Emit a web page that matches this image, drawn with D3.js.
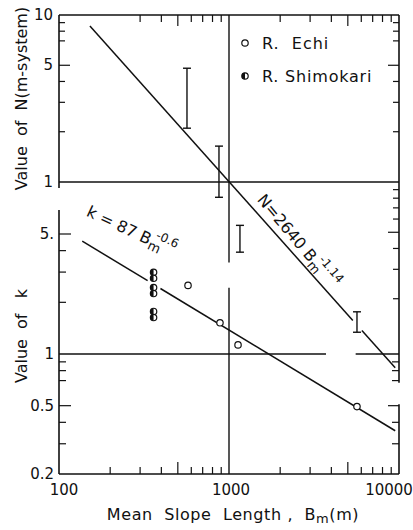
<!DOCTYPE html>
<html>
<head>
<meta charset="utf-8">
<script src="https://cdn.jsdelivr.net/npm/d3@7"></script>
<style>
  body { margin: 0; background: #fff; }
  text { font-family: "DejaVu Sans", sans-serif; fill: #111; white-space: pre; }
</style>
</head>
<body>
<svg id="chart"></svg>
<script>
// R. Echi : mean slope length vs k
const echiB = [574, 885, 1130, 5660];
const echiK = [2.51, 1.52, 1.13, 0.494];

// R. Shimokari : all at one slope length
const shimoB = [360, 360, 360, 360, 360, 360];
const shimoK = [2.99, 2.76, 2.44, 2.25, 1.77, 1.63];

// error bars of N
const barB = [566, 873, 1160, 5660];
const barLow = [2.1, 0.81, 0.38, 0.126];
const barHigh = [4.8, 1.64, 0.55, 0.167];

// fitted lines, drawn in pieces (gaps where marks sit)
const nCoef = 2640, nExp = -1.14;
const nPieces = [[152, 5350], [6050, 9500]];
const kCoef = 87, kExp = -0.6;
const kPieces = [[137, 332], [395, 9500]];

// ticks
const xMinor = [200, 300, 400, 600, 700, 800, 900, 2000, 3000, 4000, 6000, 7000, 8000, 9000];
const xMajor = [500, 5000];
const xTopMinor = [300, 400, 600, 700, 800, 900, 2000, 3000, 4000, 6000, 7000, 8000, 9000];
const xLabels = [100, 1000, 10000];
const nMinor = [9, 8, 7, 4, 3, 2];
const nMajor = [5];
const nLabels = ["10", "5", "1"];
const nRightLower = [0.9, 0.8, 0.7, 0.6, 0.4, 0.3, 0.2];
const nRightLowerMajor = [0.5];
const kLeftMinor = [4, 3, 2, 0.9, 0.8, 0.7, 0.4, 0.3];
const kLeftMajor = [5, 0.5];
const kLabels = ["5.", "1", "0.5", "0.2"];
const kRightMinor = [0.9, 0.8, 0.7, 0.4, 0.3];
const kRightMajor = [0.5];

const W = 413, H = 530;
const svg = d3.select("#chart").attr("width", W).attr("height", H);

const x = d3.scaleLog().domain([100, 10000]).range([59, 399]);
const yN = d3.scaleLog().domain([1, 10]).range([182, 15]);
const yK = d3.scaleLog().domain([0.2, 1]).range([474, 354]);

const ink = "#111";
const left = x(100), right = x(10000);

function seg(x1, y1, x2, y2, w) {
  svg.append("line")
    .attr("x1", x1).attr("y1", y1).attr("x2", x2).attr("y2", y2)
    .attr("stroke", ink).attr("stroke-width", w || 1.4);
}

// frame
seg(left, yN(10), right, yN(10), 1.6);
seg(left, yK(0.2), right, yK(0.2), 1.6);
seg(left, yN(10), left, yN(0.92), 1.6);
seg(left, yK(6.9), left, yK(0.2), 1.6);
seg(right, yN(10), right, yK(0.68), 1.6);
seg(right, yK(0.51), right, yK(0.2), 1.6);

// reference lines N=1, k=1, B=1000
seg(left, yN(1), right, yN(1));
seg(left, yK(1), x(3720), yK(1));
seg(x(5560), yK(1), right, yK(1));
seg(x(1000), yN(10), x(1000), yN(0.33));
seg(x(1000), yK(2.43), x(1000), yK(0.2));

// x ticks
xMinor.forEach(v => seg(x(v), yK(0.2), x(v), yK(0.2) - 7, 1.2));
xMajor.forEach(v => seg(x(v), yK(0.2), x(v), yK(0.2) - 12, 1.2));
xTopMinor.forEach(v => seg(x(v), yN(10), x(v), yN(10) + 7, 1.2));
xMajor.forEach(v => seg(x(v), yN(10), x(v), yN(10) + 11, 1.2));

// y ticks, left
nMinor.forEach(v => seg(left, yN(v), left + 6, yN(v), 1.2));
nMajor.forEach(v => seg(left, yN(v), left + 11, yN(v), 1.2));
kLeftMinor.forEach(v => seg(left, yK(v), left + 7, yK(v), 1.2));
kLeftMajor.forEach(v => seg(left, yK(v), left + 12, yK(v), 1.2));

// y ticks, right
nMinor.forEach(v => seg(right, yN(v), right - 6, yN(v), 1.2));
nMajor.forEach(v => seg(right, yN(v), right - 11, yN(v), 1.2));
nRightLower.forEach(v => seg(right, yN(v), right - 6, yN(v), 1.2));
nRightLowerMajor.forEach(v => seg(right, yN(v), right - 11, yN(v), 1.2));
kRightMinor.forEach(v => seg(right, yK(v), right - 7, yK(v), 1.2));
kRightMajor.forEach(v => seg(right, yK(v), right - 11, yK(v), 1.2));

// tick labels
const labelSize = "15px";
nLabels.forEach(s => {
  svg.append("text").attr("x", left - 6).attr("y", yN(+s) + 5)
    .attr("text-anchor", "end").style("font-size", labelSize).text(s);
});
kLabels.forEach(s => {
  svg.append("text").attr("x", left - 5).attr("y", yK(parseFloat(s)) + 5)
    .attr("text-anchor", "end").style("font-size", labelSize).text(s);
});
const xLabelShift = [5, 2, -10];
xLabels.forEach((v, i) => {
  svg.append("text").attr("x", x(v) + xLabelShift[i]).attr("y", yK(0.2) + 21)
    .attr("text-anchor", "middle").style("font-size", labelSize).text(String(v));
});

// axis titles
svg.append("text")
  .attr("transform", "translate(27," + (yN(10) + yN(1)) / 2 + ") rotate(-90)")
  .attr("text-anchor", "middle").style("font-size", "16px")
  .text("Value  of  N(m-system)");
svg.append("text")
  .attr("transform", "translate(27," + (yK(1) - 18) + ") rotate(-90)")
  .attr("text-anchor", "middle").style("font-size", "16px")
  .text("Value  of   k");
const xt = svg.append("text")
  .attr("x", (left + right) / 2 + 4).attr("y", yK(0.2) + 46)
  .attr("text-anchor", "middle").style("font-size", "16px")
  .style("letter-spacing", "0.6px");
xt.append("tspan").text("Mean  Slope  Length ,  B");
xt.append("tspan").attr("dy", 3).style("font-size", "13px").text("m");
xt.append("tspan").attr("dy", -3).text("(m)");

// fitted lines
const lineGen = d3.line();
function drawFit(coef, ex, pieces, yScale) {
  pieces.forEach(p => {
    const pts = p.map(b => [x(b), yScale(coef * Math.pow(b, ex))]);
    svg.append("path").attr("d", lineGen(pts))
      .attr("fill", "none").attr("stroke", ink).attr("stroke-width", 1.5);
  });
}
drawFit(nCoef, nExp, nPieces, yN);
drawFit(kCoef, kExp, kPieces, yK);

// error bars
barB.forEach((b, i) => {
  const cx = x(b);
  seg(cx, yN(barLow[i]), cx, yN(barHigh[i]), 1.4);
  seg(cx - 4, yN(barLow[i]), cx + 4, yN(barLow[i]), 1.4);
  seg(cx - 4, yN(barHigh[i]), cx + 4, yN(barHigh[i]), 1.4);
});

// markers
const r = 3.2;
const halfArc = d3.arc().innerRadius(0).outerRadius(r).startAngle(Math.PI).endAngle(2 * Math.PI);
function openMark(cx, cy) {
  svg.append("circle").attr("cx", cx).attr("cy", cy).attr("r", r)
    .attr("fill", "#fff").attr("stroke", ink).attr("stroke-width", 1.2);
}
function halfMark(cx, cy) {
  openMark(cx, cy);
  svg.append("path").attr("d", halfArc())
    .attr("transform", "translate(" + cx + "," + cy + ")").attr("fill", ink);
}
echiB.forEach((b, i) => openMark(x(b), yK(echiK[i])));
shimoB.forEach((b, i) => halfMark(x(b), yK(shimoK[i])));

// legend
const legX = 245, legY = [43, 76];
openMark(legX, legY[0]);
halfMark(legX, legY[1]);
svg.append("text").attr("x", legX + 17).attr("y", legY[0] + 6)
  .style("font-size", "16px").style("letter-spacing", "1px").text("R.  Echi");
svg.append("text").attr("x", legX + 17).attr("y", legY[1] + 6)
  .style("font-size", "16px").style("letter-spacing", "0.8px").text("R. Shimokari");

// equation labels
function eqLabel(at, scaleY, angle, main, expo) {
  const t = svg.append("text")
    .attr("transform", "translate(" + x(at[0]) + "," + scaleY(at[1]) + ") rotate(" + angle + ")")
    .style("font-size", "16px");
  t.append("tspan").text(main);
  t.append("tspan").attr("dy", 4).style("font-size", "13px").text("m");
  t.append("tspan").attr("dx", -9).attr("dy", -13).style("font-size", "12px").text(expo);
}
eqLabel([143, 6.4], yK, 25, "k = 87 B", "-0.6");
eqLabel([1450, 0.78], yN, 50, "N=2640 B", "-1.14");
</script>
</body>
</html>
